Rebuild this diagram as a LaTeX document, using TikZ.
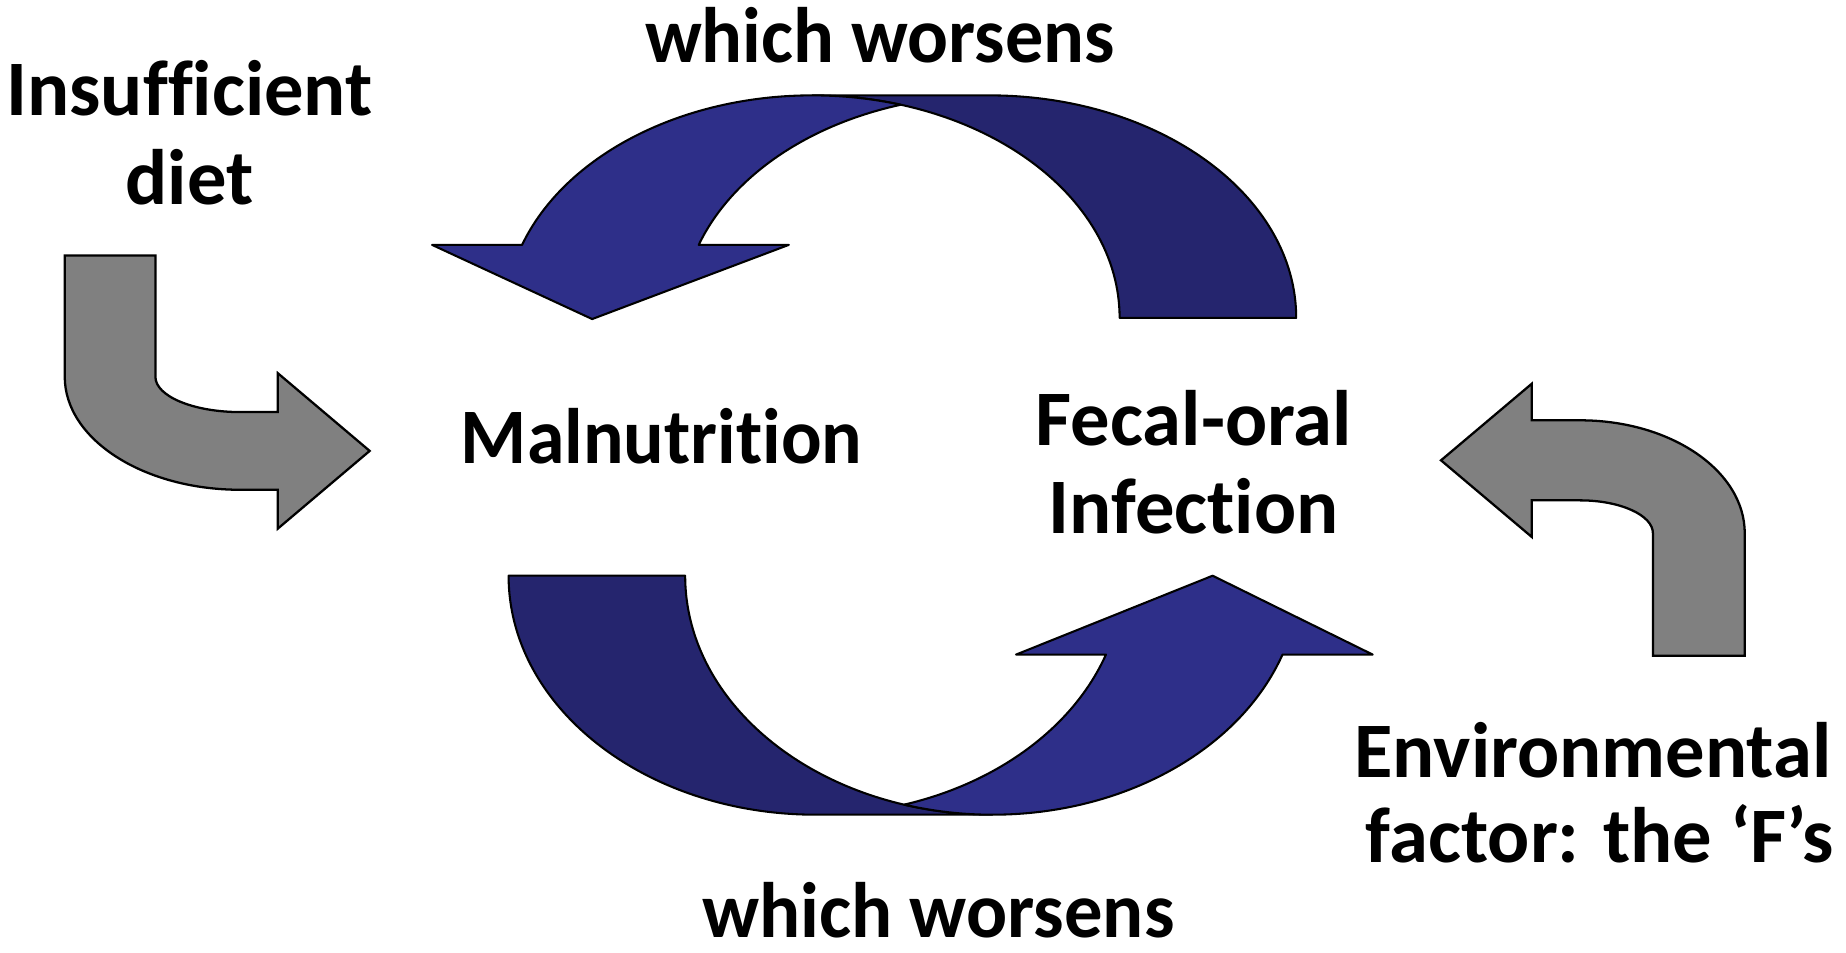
\documentclass[tikz,border=0pt]{standalone}
\usepackage{fontspec}
\setmainfont{Carlito}[Ligatures=NoCommon]
\begin{document}
\begin{tikzpicture}[x=0.1mm,y=0.1mm]
\definecolor{bandfront}{RGB}{46,47,137}
\definecolor{bandback}{RGB}{37,37,110}
\definecolor{grayarrow}{RGB}{128,128,128}
\tikzset{
  front/.style={fill=bandfront,draw=black,line width=0.5pt,line join=round},
  back/.style={fill=bandback,draw=black,line width=0.5pt,line join=round},
  grayshape/.style={fill=grayarrow,draw=black,line width=0.55pt,line join=miter},
  lbl/.style={font=\fontsize{19}{21}\selectfont\bfseries,inner sep=0pt,anchor=base}
}
\useasboundingbox (0,0) rectangle (1568,809);

% top curved arrow (back band, then front band)
\draw[back] (690,728) -- (840,728)
  arc[start angle=90,end angle=0,x radius=261,y radius=189] -- (951,539)
  arc[start angle=0,end angle=90,x radius=261,y radius=189] -- cycle;
\draw[front] (690,728)
  arc[start angle=90,end angle=160.85,x radius=261,y radius=189]
  -- (367,601) -- (503,538) -- (670,601) -- (593.5,601)
  arc[start angle=160.85,end angle=106.7,x radius=261,y radius=189]
  arc[start angle=73.3,end angle=90,x radius=261,y radius=189] -- cycle;

% bottom curved arrow
\draw[back] (432,320)
  arc[start angle=180,end angle=270,x radius=261,y radius=203] -- (843,117)
  arc[start angle=270,end angle=180,x radius=261,y radius=203] -- cycle;
\draw[front] (843,117)
  arc[start angle=270,end angle=340.73,x radius=261,y radius=203]
  -- (1166,253) -- (1030,320) -- (863,253) -- (939.4,253)
  arc[start angle=340.73,end angle=286.7,x radius=261,y radius=203]
  arc[start angle=253.3,end angle=270,x radius=261,y radius=203] -- cycle;

% left gray bent arrow
\draw[grayshape] (55,592) -- (55,489)
  arc[start angle=180,end angle=270,x radius=149,y radius=96]
  -- (236,393) -- (236,360) -- (314,426) -- (236,492) -- (236,459) -- (204,459)
  arc[start angle=270,end angle=180,x radius=72,y radius=30] -- (132,592) -- cycle;

% right gray bent arrow
\draw[grayshape] (1482,252) -- (1482,356)
  arc[start angle=0,end angle=90,x radius=140,y radius=96]
  -- (1301,452) -- (1301,483) -- (1224,418) -- (1301,353) -- (1301,384) -- (1342,384)
  arc[start angle=90,end angle=0,x radius=62,y radius=28] -- (1404,252) -- cycle;

% labels
\node[lbl] (wtop) at (747.5,756) {\scalebox{0.97}[1]{which worsens}};
\node[lbl] (ins1) at (161,711) {Insufficient};
\node[lbl] (ins2) at (161,635) {diet};
\node[lbl] (mal) at (562,415) {\scalebox{0.963}[1]{Malnutrition}};
\node[lbl] (fec1) at (1014,431) {Fecal-oral};
\node[lbl] (fec2) at (1014,356) {Infection};
\node[lbl] (env1) at (1353,149) {Environmental};
\node[lbl] (env2) at (1359,76) {factor: the ‘F’s};
\node[lbl] (wbot) at (797,13) {\scalebox{0.975}[1]{which worsens}};
\end{tikzpicture}
\end{document}
